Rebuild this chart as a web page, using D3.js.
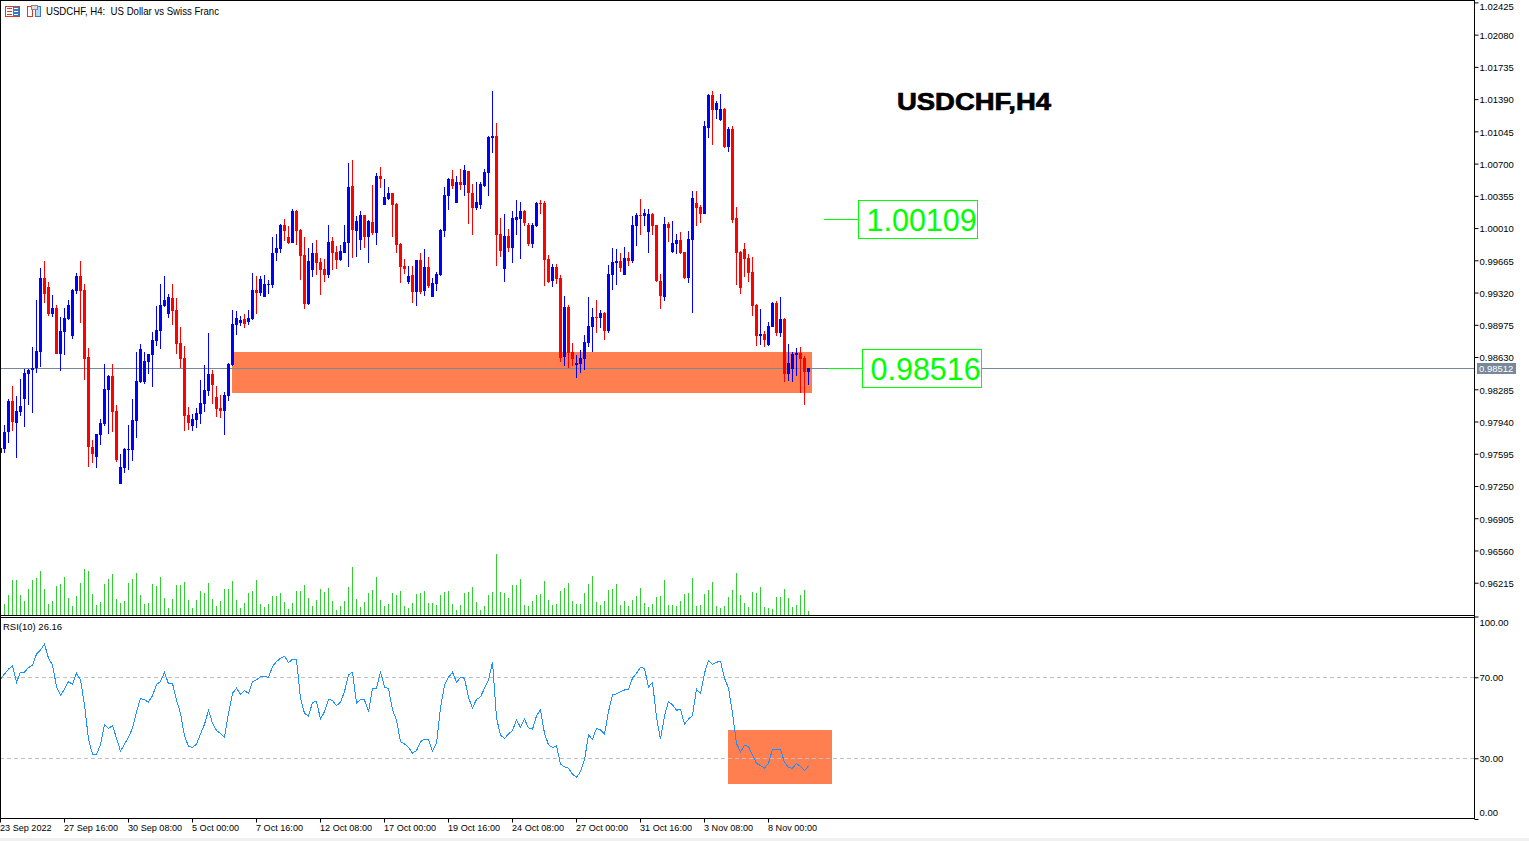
<!DOCTYPE html>
<html>
<head>
<meta charset="utf-8">
<title>USDCHF,H4</title>
<script src="https://cdn.jsdelivr.net/npm/d3@7"></script>
<style>
  html, body { margin: 0; padding: 0; background: #fff; overflow: hidden; }
  text { font-family: "Liberation Sans", sans-serif; fill: #000; }
  .axis-label { font-size: 9.5px; }
  .time-label { font-size: 9.1px; }
</style>
</head>
<body>
<div id="wrapper"></div>
<script>
// Prices are in points (1 point = 0.00001), one entry per H4 bar.
const opens = [
  97606,97649,97831,98159,97927,98041,98184,98448,98491,98512,
  98687,99475,99379,99090,99154,98662,98897,99037,98855,99336,
  99497,99347,98630,97667,97560,97795,97913,98277,98427,98052,
  97271,97442,97635,97635,97945,98362,98362,98576,98651,98801,
  98908,99176,99090,99261,99133,98780,98619,98009,97892,97956,
  98020,98127,98266,98448,98202,98084,98052,98213,98544,98972,
  98994,99036,99004,99036,99347,99315,99272,99400,99400,99743,
  99786,100042,99914,99850,100192,99989,99721,99197,99561,99743,
  99646,99571,99507,99871,99753,99668,99743,99850,100460,99978,
  99882,100149,99914,100074,99957,100567,100256,100321,100385,100267,
  99839,99604,99432,99507,99325,99668,99336,99593,99272,99411,
  99507,99978,100353,100535,100278,100502,100470,100620,100385,100224,
  100256,100460,100599,100973,100995,99946,99571,99925,99796,100096,
  100107,100192,100042,99839,100032,100278,100278,99679,99443,99593,
  99475,98630,99165,98683,98544,98555,98608,98780,98951,99058,
  99047,99101,98908,99507,99636,99657,99507,99689,99657,100032,
  100149,100139,99967,100160,100042,99443,99272,100053,99753,99839,
  99882,99753,99475,99882,100278,100235,100160,101080,101433,101273,
  101166,101284,100877,101070,100117,99753,99786,99689,99539,99186,
  98855,98876,98758,98951,99208,98887,99036,98448,98501,98651,
  98673,98619,98469
];
const highs = [
  97656,97902,98181,98320,98213,98395,98502,98502,98737,99240,
  99582,99657,99433,99293,99186,99058,99154,99240,99358,99529,
  99657,99411,98726,97742,97806,97966,98555,98437,98555,98116,
  97592,97656,97902,98181,98683,98769,98683,98662,98897,99176,
  99411,99497,99304,99411,99261,98951,98748,98095,98020,98084,
  98384,98544,98887,98491,98320,98223,98255,98566,99133,99122,
  99069,99090,99133,99529,99497,99497,99507,99454,99914,99946,
  100053,100107,100032,100214,100203,100000,99914,99796,99850,99882,
  99689,99679,100042,99914,99818,99828,100042,100706,100738,100139,
  100192,100149,100096,100470,100599,100663,100535,100449,100385,100278,
  99850,99679,99604,99604,99668,99743,99786,99700,99475,99539,
  100000,100449,100545,100631,100567,100642,100684,100620,100481,100502,
  100502,100642,100995,101476,101134,100117,100160,100000,100192,100310,
  100288,100203,100064,100064,100288,100310,100299,99721,99625,99625,
  99507,99283,99186,98780,98651,98705,98865,99272,99154,99240,
  99133,99111,99614,99796,99786,99743,99807,99753,100139,100171,
  100321,100214,100214,100171,100042,99518,100128,100074,100085,99946,
  99967,99753,99978,100406,100406,100256,101155,101444,101476,101369,
  101444,101294,101091,101102,100235,99764,99850,99732,99700,99197,
  99143,98908,99004,99218,99229,99272,99047,98769,98683,98726,
  98737,98641,98512
];
const lows = [
  97606,97606,97713,97838,97549,98002,97881,98116,98031,98459,
  98523,99208,99069,99058,98662,98480,98651,99026,98823,99304,
  98994,98384,97453,97496,97442,97688,97892,97806,97827,97506,
  97271,97389,97421,97517,97763,98352,98341,98448,98309,98748,
  98716,99165,99047,98972,98662,98512,97838,97849,97838,97870,
  97913,98041,98213,98127,97988,97977,97795,98159,98534,98865,
  98962,98940,98972,99026,99090,99283,99272,99304,99368,99657,
  99743,99871,99839,99850,99828,99454,99143,99186,99486,99507,
  99293,99432,99475,99561,99571,99657,99743,99593,99689,99700,
  99775,99796,99636,99935,99828,100438,100256,100310,99914,99743,
  99422,99518,99411,99208,99176,99304,99283,99368,99272,99336,
  99497,99914,100203,100428,100278,100417,100353,100053,99935,100203,
  100214,100449,100353,100813,99604,99700,99432,99753,99636,99935,
  99679,100032,99818,99796,100021,100160,99390,99422,99379,99411,
  98576,98534,98512,98534,98405,98459,98491,98737,98683,98887,
  98940,98812,98887,99347,99400,99539,99507,99604,99636,99818,
  99935,100032,99743,99935,99432,99143,99229,99860,99743,99732,
  99732,99464,99422,99101,100032,100064,100160,100973,100898,101177,
  101155,100866,100824,100064,99400,99304,99486,99432,99069,98748,
  98758,98737,98748,98951,98855,98844,98362,98373,98362,98427,
  98245,98116,98330
];
const closes = [
  97656,97827,98159,97938,98052,98106,98459,98491,98512,98694,
  99475,99304,99090,99154,98662,98908,99047,99186,99347,99497,
  99336,98609,97667,97592,97806,97924,98288,98427,98041,97528,
  97453,97645,97645,97956,98373,98716,98587,98662,98812,98919,
  99186,99240,99272,99122,98769,98609,97999,97924,97966,98031,
  98138,98277,98448,98330,98074,98052,98223,98555,98983,99047,
  99026,98983,99047,99347,99315,99464,99411,99411,99743,99796,
  100042,99978,99850,100192,99978,99711,99197,99657,99743,99636,
  99561,99507,99860,99743,99668,99764,99860,100449,99989,100085,
  100149,99914,100085,99957,100567,100535,100342,100385,100256,99828,
  99593,99571,99497,99325,99668,99325,99593,99390,99422,99518,
  99989,100363,100535,100460,100502,100470,100631,100385,100224,100288,
  100481,100610,100984,100995,99935,99764,99925,99796,100117,100128,
  100192,100064,99839,100042,100278,100267,99668,99432,99593,99464,
  98619,99165,98673,98608,98566,98619,98790,98962,99058,99047,
  99101,98908,99518,99646,99657,99582,99689,99657,100042,100149,
  100139,100171,100160,100032,99443,99283,100053,100010,99850,99882,
  99743,99475,99893,100331,100224,100160,101102,101433,101273,101348,
  101284,100877,101070,100096,99743,99368,99679,99529,99176,98855,
  98876,98812,98962,99208,98887,99036,98448,98566,98662,98673,
  98608,98469,98512
];
const volumes = [
  30,33,60,105,105,60,42,78,105,111,
  132,78,33,42,87,93,114,51,27,57,
  96,138,132,63,30,39,93,108,123,48,
  36,42,96,108,126,60,33,36,93,87,
  114,51,21,48,90,90,99,45,21,45,
  72,66,96,48,27,42,78,78,102,45,
  21,36,66,72,105,33,24,33,57,57,
  66,39,18,36,72,72,90,51,27,45,
  78,69,81,42,15,27,42,84,144,48,
  24,39,66,75,114,45,27,33,66,60,
  72,27,21,36,63,66,72,36,36,30,
  60,69,72,33,15,30,66,69,84,39,
  15,27,60,69,183,69,66,51,90,90,
  108,30,27,42,60,63,102,45,30,33,
  72,81,96,42,33,33,66,93,117,39,
  30,42,75,78,93,30,42,27,45,57,
  81,36,24,33,54,57,105,30,30,27,
  42,63,66,111,27,30,63,75,99,27,
  21,27,54,75,126,60,36,24,69,66,
  84,24,21,18,54,54,78,51,24,30,
  60,75,12
];
const rsiValues = [
  69.0,71.6,74.0,75.6,67.5,72.5,72.5,74.8,75.9,81.4,
  83.5,86.3,79.4,76.1,65.4,61.1,64.1,67.9,66.5,72.0,
  68.7,56.3,39.4,32.0,32.0,36.6,46.8,44.8,46.1,39.9,
  33.5,36.9,40.4,44.8,53.0,59.6,58.8,57.8,60.8,66.5,
  67.9,72.5,66.7,67.0,58.8,52.2,41.0,35.8,35.4,36.9,
  42.0,46.8,53.7,47.3,43.7,42.3,40.4,52.2,62.1,64.6,
  61.6,63.4,62.1,67.9,68.7,70.3,70.3,70.0,75.3,77.7,
  79.4,80.4,77.2,78.9,78.6,59.6,52.2,50.9,57.5,58.1,
  49.3,53.0,59.1,58.5,56.0,57.7,62.9,71.2,72.5,57.2,
  59.1,58.8,53.0,64.6,64.6,72.8,65.1,64.4,53.9,48.9,
  38.1,37.1,35.3,32.5,33.8,38.2,39.4,39.4,33.5,37.4,
  54.7,66.2,70.0,72.5,67.5,70.0,69.5,60.1,54.7,59.1,
  60.3,64.6,68.7,77.4,49.8,41.5,39.7,42.0,43.7,48.9,
  45.3,49.3,45.0,44.3,50.9,53.9,42.3,36.6,35.3,36.1,
  27.2,25.7,25.1,22.1,20.6,23.4,29.2,41.4,39.4,44.8,
  44.0,41.9,53.0,61.3,61.8,62.9,63.7,64.2,69.5,72.0,
  74.9,74.4,65.1,67.5,50.2,39.4,50.9,58.1,56.3,53.7,
  54.2,46.8,49.3,51.2,64.1,62.1,72.0,78.4,76.4,77.4,
  77.9,69.5,64.6,52.2,37.4,33.0,36.4,35.8,31.6,27.4,
  26.4,25.1,27.5,34.4,34.1,34.4,28.0,25.4,25.1,27.4,
  25.9,23.9,26.16
];

const priceTicks = [
  102425,102080,101735,101390,101045,100700,100355,100010,99665,99320,
  98975,98630,98285,97940,97595,97250,96905,96560,96215
];
const rsiTicks = [100, 70, 30, 0];
const rsiLevels = [70, 30];
const timeLabels = [
  "23 Sep 2022","27 Sep 16:00","30 Sep 08:00","5 Oct 00:00","7 Oct 16:00",
  "12 Oct 08:00","17 Oct 00:00","19 Oct 16:00","24 Oct 08:00","27 Oct 00:00",
  "31 Oct 16:00","3 Nov 08:00","8 Nov 00:00"
];
const BARS_PER_LABEL = 16;
const lastPrice = 98512;

// chart objects drawn by hand on the terminal
const zoneBars = [58, 203];
const zonePrices = [98684, 98245];
const rsiZoneBars = [182, 208];
const rsiZoneValues = [44, 17.3];
const priceCallouts = [
  { price: 100109, bar: 206, text: "1.00109" },
  { price: 98516, bar: 207, text: "0.98516" },
];

function drawChart() {
  // 1. Chart dimensions

  const dimensions = {
    width: 1529,
    height: 841,
    axisX: 1475,
    mainTop: 2.4,
    mainTick: 582.7,
    mainBottom: 615,
    rsiTop: 616.5,
    rsiBottom: 819,
    frameBottom: 818.5,
    stripTop: 838,
  };

  const wrapper = d3.select("#wrapper")
    .append("svg")
      .attr("width", dimensions.width)
      .attr("height", dimensions.height)
      .style("display", "block");

  // 2. Scales

  const xScale = d3.scaleLinear()
    .domain([0, 400])
    .range([0, 1600]);

  const priceScale = d3.scaleLinear()
    .domain([d3.min(priceTicks), d3.max(priceTicks)])
    .range([dimensions.mainTick, dimensions.mainTop]);

  const volumeScale = d3.scaleLinear()
    .domain([0, d3.max(volumes)])
    .range([dimensions.mainBottom, 554]);

  const rsiScale = d3.scaleLinear()
    .domain([0, 100])
    .range([dimensions.rsiBottom, dimensions.rsiTop]);

  const bars = opens.map((open, i) => ({
    i,
    open,
    high: highs[i],
    low: lows[i],
    close: closes[i],
    volume: volumes[i],
  }));

  const barColor = d => d.close >= d.open ? "#0000ff" : "#ff0000";

  // 3. Rectangles behind the marks

  wrapper.append("rect")
      .attr("x", xScale(zoneBars[0]))
      .attr("y", Math.round(priceScale(zonePrices[0])))
      .attr("width", xScale(zoneBars[1]) - xScale(zoneBars[0]))
      .attr("height", Math.round(priceScale(zonePrices[1])) - Math.round(priceScale(zonePrices[0])))
      .attr("fill", "#ff7f50");

  wrapper.append("rect")
      .attr("x", xScale(rsiZoneBars[0]))
      .attr("y", Math.round(rsiScale(rsiZoneValues[0])))
      .attr("width", xScale(rsiZoneBars[1]) - xScale(rsiZoneBars[0]))
      .attr("height", Math.round(rsiScale(rsiZoneValues[1])) - Math.round(rsiScale(rsiZoneValues[0])))
      .attr("fill", "#ff7f50");

  // 4. Volumes, candles, last price line

  wrapper.append("g")
      .attr("shape-rendering", "crispEdges")
    .selectAll("rect")
    .data(bars)
    .join("rect")
      .attr("x", d => xScale(d.i))
      .attr("y", d => Math.round(volumeScale(d.volume)))
      .attr("width", 1)
      .attr("height", d => dimensions.mainBottom - Math.round(volumeScale(d.volume)))
      .attr("fill", "#32cd32");

  wrapper.append("line")
      .attr("x1", 0)
      .attr("x2", dimensions.axisX)
      .attr("y1", Math.round(priceScale(lastPrice)) + 0.5)
      .attr("y2", Math.round(priceScale(lastPrice)) + 0.5)
      .attr("stroke", "#778899")
      .attr("shape-rendering", "crispEdges");

  const candles = wrapper.append("g")
      .attr("shape-rendering", "crispEdges")
    .selectAll("g")
    .data(bars)
    .join("g")
      .attr("fill", barColor);

  candles.append("rect")
      .attr("x", d => xScale(d.i))
      .attr("y", d => Math.round(priceScale(d.high)))
      .attr("width", 1)
      .attr("height", d => Math.max(1, Math.round(priceScale(d.low)) - Math.round(priceScale(d.high))));

  candles.append("rect")
      .attr("x", d => xScale(d.i) - 1)
      .attr("y", d => Math.round(priceScale(Math.max(d.open, d.close))))
      .attr("width", 3)
      .attr("height", d => Math.max(1,
        Math.round(priceScale(Math.min(d.open, d.close))) - Math.round(priceScale(Math.max(d.open, d.close)))));

  // 5. RSI pane

  wrapper.append("g")
    .selectAll("line")
    .data(rsiLevels)
    .join("line")
      .attr("x1", 0)
      .attr("x2", dimensions.axisX)
      .attr("y1", d => Math.round(rsiScale(d)) + 0.5)
      .attr("y2", d => Math.round(rsiScale(d)) + 0.5)
      .attr("stroke", "#c0c0c0")
      .attr("stroke-dasharray", "4,3")
      .attr("shape-rendering", "crispEdges");

  const rsiLine = d3.line()
    .x((_d, i) => xScale(i) + 0.5)
    .y(d => rsiScale(d));

  wrapper.append("path")
      .attr("d", rsiLine(rsiValues))
      .attr("fill", "none")
      .attr("stroke", "#1e90ff")
      .attr("stroke-width", 1)
      .attr("shape-rendering", "crispEdges");

  // 6. Frame and axes

  wrapper.append("rect")
      .attr("x", 0)
      .attr("y", dimensions.stripTop)
      .attr("width", dimensions.width)
      .attr("height", dimensions.height - dimensions.stripTop)
      .attr("fill", "#f0f0f0");

  const frame = [
    [0, 0.5, dimensions.axisX, 0.5],
    [0.5, 0, 0.5, dimensions.frameBottom],
    [dimensions.axisX - 0.5, 0, dimensions.axisX - 0.5, dimensions.frameBottom],
    [0, 615.5, dimensions.axisX, 615.5],
    [0, 617.5, dimensions.axisX, 617.5],
    [0, dimensions.frameBottom, dimensions.axisX, dimensions.frameBottom],
  ];
  wrapper.append("g")
      .attr("stroke", "#000")
      .attr("shape-rendering", "crispEdges")
    .selectAll("line")
    .data(frame)
    .join("line")
      .attr("x1", d => d[0])
      .attr("y1", d => d[1])
      .attr("x2", d => d[2])
      .attr("y2", d => d[3]);

  const priceAxis = d3.axisRight(priceScale)
    .tickValues(priceTicks)
    .tickSize(4)
    .tickPadding(1)
    .tickFormat(d => (d / 1e5).toFixed(5));

  wrapper.append("g")
      .attr("class", "price-axis")
      .attr("transform", `translate(${dimensions.axisX - 0.5}, 0)`)
      .call(priceAxis)
      .call(g => g.select(".domain").remove())
      .call(g => g.selectAll("text")
        .attr("class", "axis-label")
        .attr("font-family", null)
        .attr("font-size", null)
        // the top label sits right under the window edge
        .attr("dy", d => d === d3.max(priceTicks) ? "0.75em" : "0.4em"));

  const rsiAxis = d3.axisRight(rsiScale)
    .tickValues(rsiTicks)
    .tickSize(4)
    .tickPadding(1)
    .tickFormat(d => d.toFixed(2));

  wrapper.append("g")
      .attr("class", "rsi-axis")
      .attr("transform", `translate(${dimensions.axisX - 0.5}, 0)`)
      .call(rsiAxis)
      .call(g => g.select(".domain").remove())
      .call(g => g.selectAll("text")
        .attr("class", "axis-label")
        .attr("font-family", null)
        .attr("font-size", null)
        // the 100 and 0 labels are pushed inside the pane
        .attr("dy", d => d === 100 ? "0.95em" : d === 0 ? "-0.35em" : "0.32em"));

  const timeScale = d3.scalePoint()
    .domain(timeLabels)
    .range([xScale(0), xScale((timeLabels.length - 1) * BARS_PER_LABEL)]);

  const timeAxis = d3.axisBottom(timeScale)
    .tickSize(4)
    .tickPadding(2);

  wrapper.append("g")
      .attr("class", "time-axis")
      .attr("transform", `translate(0, ${dimensions.frameBottom})`)
      .call(timeAxis)
      .call(g => g.select(".domain").remove())
      .call(g => g.selectAll("text")
        .attr("class", "time-label")
        .attr("font-family", null)
        .attr("font-size", null)
        .attr("dx", -0.5)
        .attr("text-anchor", "start"));

  // last price tag on the axis
  const tagY = Math.round(priceScale(lastPrice));
  wrapper.append("rect")
      .attr("x", 1477)
      .attr("y", tagY - 5)
      .attr("width", 39)
      .attr("height", 11)
      .attr("fill", "#778899");

  wrapper.append("text")
      .attr("class", "axis-label")
      .attr("x", 1479)
      .attr("y", tagY + 4)
      .style("fill", "#fff")
      .text((lastPrice / 1e5).toFixed(5));

  // 7. Peripherals

  wrapper.append("text")
      .attr("x", 46)
      .attr("y", 15)
      .attr("font-size", 10.5)
      .attr("textLength", 173)
      .attr("lengthAdjust", "spacingAndGlyphs")
      .attr("xml:space", "preserve")
      .text("USDCHF, H4:  US Dollar vs Swiss Franc");

  wrapper.append("text")
      .attr("x", 3)
      .attr("y", 630)
      .attr("font-size", 9.5)
      .text(`RSI(10) ${rsiValues[rsiValues.length - 1].toFixed(2)}`);

  wrapper.append("text")
      .attr("x", 897)
      .attr("y", 110)
      .attr("font-size", 24)
      .attr("font-weight", "bold")
      .attr("textLength", 154)
      .attr("lengthAdjust", "spacingAndGlyphs")
      .attr("stroke", "#000")
      .attr("stroke-width", 0.7)
      .text("USDCHF,H4");

  const callouts = wrapper.append("g")
    .selectAll("g")
    .data(priceCallouts)
    .join("g")
      .attr("transform", d => `translate(${xScale(d.bar)}, ${Math.round(priceScale(d.price)) + 0.5})`);

  callouts.append("line")
      .attr("x1", 0)
      .attr("x2", 34)
      .attr("stroke", "#00ff00")
      .attr("shape-rendering", "crispEdges");

  callouts.append("rect")
      .attr("x", 34.5)
      .attr("y", -19)
      .attr("width", 119)
      .attr("height", 38)
      .attr("fill", "#fff")
      .attr("stroke", "#00ff00")
      .attr("shape-rendering", "crispEdges");

  callouts.append("text")
      .attr("x", 42.5)
      .attr("y", 11)
      .attr("font-size", 30.5)
      .style("fill", "#00ff00")
      .text(d => d.text);

  // toolbar icons in the corner
  const icons = wrapper.append("g")
      .attr("shape-rendering", "crispEdges");
  icons.append("rect").attr("x", 5.5).attr("y", 6.5).attr("width", 14).attr("height", 10)
      .attr("fill", "#fff").attr("stroke", "#d83a2e");
  icons.append("rect").attr("x", 13).attr("y", 7).attr("width", 6).attr("height", 9).attr("fill", "#3a78c8");
  [8, 11, 14].forEach(y => {
    icons.append("rect").attr("x", 7).attr("y", y).attr("width", 5).attr("height", 1).attr("fill", "#d83a2e");
    icons.append("rect").attr("x", 14).attr("y", y).attr("width", 4).attr("height", 1).attr("fill", "#fff");
  });
  icons.append("rect").attr("x", 27.5).attr("y", 6.5).attr("width", 5).attr("height", 10)
      .attr("fill", "#fff").attr("stroke", "#d83a2e");
  icons.append("rect").attr("x", 35.5).attr("y", 6.5).attr("width", 5).attr("height", 10)
      .attr("fill", "#b9d6f2").attr("stroke", "#3a78c8");
  icons.append("rect").attr("x", 31).attr("y", 5).attr("width", 6).attr("height", 4)
      .attr("fill", "#ddd").attr("stroke", "#888");
}
drawChart();
</script>
</body>
</html>
